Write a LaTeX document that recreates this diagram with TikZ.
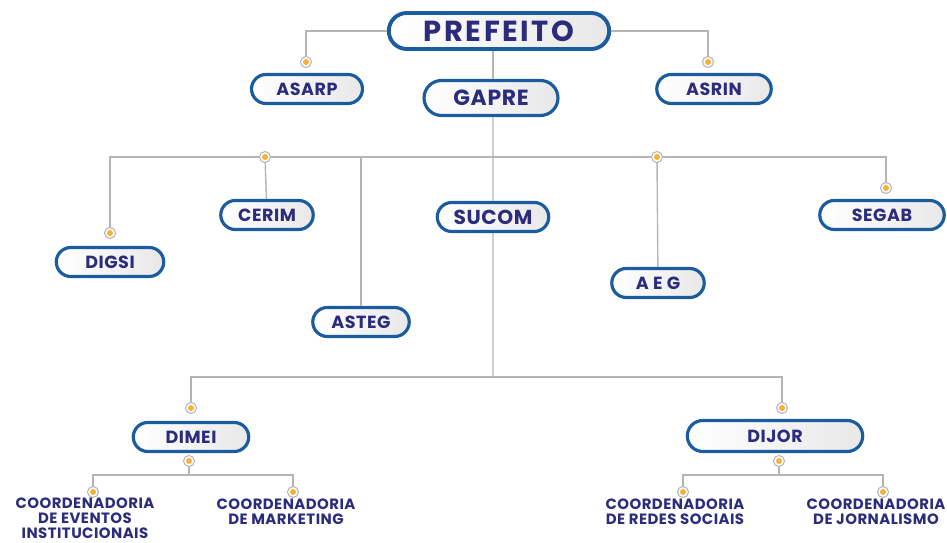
\documentclass[tikz,border=0pt]{standalone}
\usepackage{fontspec}
\setmainfont{Poppins}[LetterSpace=3]
\usepackage{tikz}
\usetikzlibrary{shapes.misc}
\definecolor{azulborda}{HTML}{1A5C9E}
\definecolor{azultexto}{HTML}{2B2D7C}
\definecolor{cinzalinha}{HTML}{B5B5B5}
\definecolor{laranja}{HTML}{F8B133}
\tikzstyle{orgao}=[
        rounded rectangle,
        draw=azulborda,
        line width=1.8pt,
        left color=white,
        right color=black!9,
        text=azultexto,
        font=\bfseries\fontsize{10}{12}\selectfont,
        minimum height=0.58cm,
        inner sep=2pt
]
\tikzstyle{ponto}=[circle,draw=cinzalinha,fill=white,line width=0.6pt,
minimum size=0.22cm,inner sep=0pt,
path picture={\fill[laranja] (path picture bounding box.center) circle (0.06cm);}]
\tikzstyle{ligacao}=[draw=cinzalinha,line width=0.8pt]
\tikzstyle{coord}=[text=azultexto,font=\bfseries\fontsize{8.5}{8.5}\selectfont,align=center,anchor=north,inner sep=0pt]
\begin{document}
\begin{tikzpicture}[x=0.02cm,y=-0.02cm]
\useasboundingbox (0,0) rectangle (947,543);
\node[orgao,minimum width=4.55cm,minimum height=0.72cm,line width=2.2pt,font=\bfseries\fontsize{16.5}{19}\selectfont\addfontfeature{LetterSpace=9}] (prefeito) at (499,31) {PREFEITO};
\node[orgao,minimum width=2.36cm] (asarp) at (307,89) {ASARP};
\node[orgao,minimum width=2.82cm,minimum height=0.7cm,font=\bfseries\fontsize{12.5}{15}\selectfont] (gapre) at (491,98) {GAPRE};
\node[orgao,minimum width=2.43cm] (asrin) at (714,89) {ASRIN};
\node[orgao,minimum width=2.29cm] (digsi) at (110,262) {DIGSI};
\node[orgao,minimum width=1.99cm] (cerim) at (267,215) {CERIM};
\node[orgao,minimum width=2.37cm,font=\bfseries\fontsize{11.5}{14}\selectfont] (sucom) at (493,217) {SUCOM};
\node[orgao,minimum width=2.07cm] (asteg) at (361,322) {ASTEG};
\node[orgao,minimum width=1.99cm] (aeg) at (658,283) {A E G};
\node[orgao,minimum width=2.63cm] (segab) at (882,215) {SEGAB};
\node[orgao,minimum width=2.45cm] (dimei) at (191,437) {DIMEI};
\node[orgao,minimum width=3.65cm,minimum height=0.62cm] (dijor) at (775,436) {DIJOR};
% pontos
\node[ponto] (pasarp) at (306,62) {};
\node[ponto] (pasrin) at (708,62) {};
\node[ponto] (pcerim) at (265,157) {};
\node[ponto] (paeg) at (657,157) {};
\node[ponto] (pdigsi) at (110,233) {};
\node[ponto] (psegab) at (886,188) {};
\node[ponto] (pdimei) at (191,408) {};
\node[ponto] (pdijor) at (782,408) {};
\node[ponto] (pdimeib) at (189,461) {};
\node[ponto] (pdijorb) at (779,461) {};
\node[ponto] (peventos) at (93,492) {};
\node[ponto] (pmarketing) at (293,492) {};
\node[ponto] (predes) at (683,492) {};
\node[ponto] (pjornal) at (883,492) {};
% coordenadorias
\node[coord] (ceventos) at (85,498) {COORDENADORIA\\DE EVENTOS\\INSTITUCIONAIS};
\node[coord] (cmarketing) at (286,499) {COORDENADORIA\\DE MARKETING};
\node[coord] (credes) at (675,499) {COORDENADORIA\\DE REDES SOCIAIS};
\node[coord] (cjornal) at (876,499) {COORDENADORIA\\DE JORNALISMO};
\coordinate (barrasucom) at (493,377);
\coordinate (barradimei) at (189,475);
\coordinate (barradijor) at (779,475);
%ligacoes
\draw[ligacao] (prefeito.west) -| (pasarp);
\draw[ligacao] (prefeito.east) -| (pasrin);
\draw[ligacao] (sucom.north |- gapre.north) -- (sucom.north |- prefeito.south);
\draw[ligacao] (pdigsi) |- (pcerim);
\draw[ligacao] (pcerim) -- (paeg);
\draw[ligacao] (paeg) -| (psegab);
\draw[ligacao] (pcerim) -- (cerim);
\draw[ligacao] (paeg) -- (aeg);
\draw[ligacao] (asteg.north) -- (asteg.north |- pcerim);
\draw[ligacao] (sucom.north |- gapre.south) -- (sucom);
\draw[ligacao] (sucom) -- (barrasucom);
\draw[ligacao] (pdimei) |- (barrasucom) -| (pdijor);
\draw[ligacao] (pdimeib) -- (barradimei);
\draw[ligacao] (peventos) |- (barradimei) -| (pmarketing);
\draw[ligacao] (pdijorb) -- (barradijor);
\draw[ligacao] (predes) |- (barradijor) -| (pjornal);
\end{tikzpicture}
\end{document}
